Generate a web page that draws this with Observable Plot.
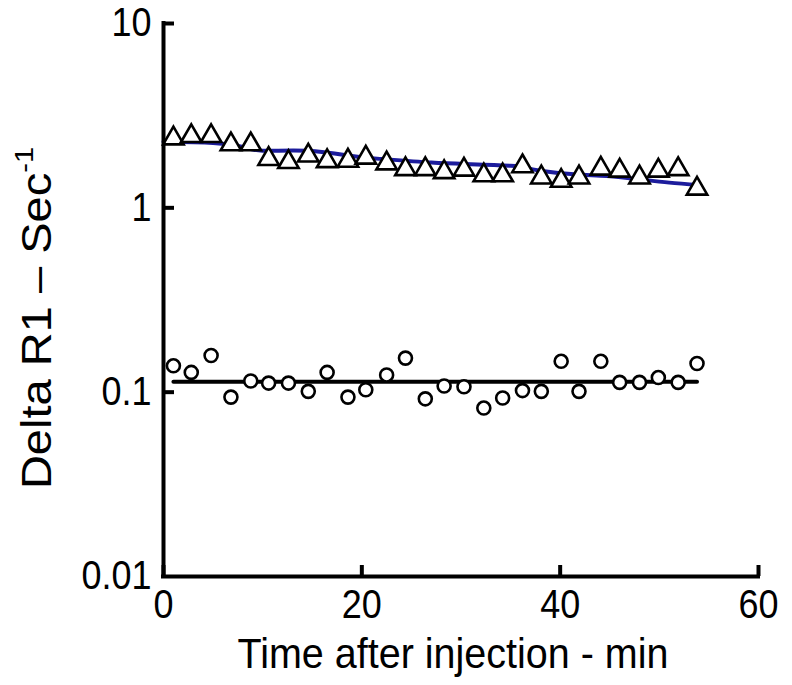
<!DOCTYPE html>
<html>
<head>
<meta charset="utf-8">
<script src="https://cdn.jsdelivr.net/npm/d3@7"></script>
<script src="https://cdn.jsdelivr.net/npm/@observablehq/plot@0.6"></script>
<style>
  html, body { margin: 0; padding: 0; background: #fff; }
  svg { font-family: "Liberation Sans", Arial, sans-serif; }
</style>
</head>
<body>
<div id="chart"></div>
<script>
// Sample times (min)
const time = [1.0, 2.8, 4.8, 6.8, 8.8, 10.6, 12.6, 14.6, 16.5, 18.6, 20.4, 22.5, 24.4, 26.4,
              28.3, 30.3, 32.3, 34.2, 36.2, 38.1, 40.1, 41.9, 44.1, 46.0, 48.0, 49.9, 51.9, 53.8];
// Upper series (triangles)
const triangleValues = [2.38, 2.45, 2.45, 2.21, 2.21, 1.84, 1.77, 1.92, 1.79, 1.80, 1.87, 1.74, 1.62, 1.62,
                        1.56, 1.61, 1.50, 1.50, 1.68, 1.46, 1.40, 1.46, 1.63, 1.59, 1.46, 1.59, 1.62, 1.27];
// Lower series (circles)
const circleValues = [0.139, 0.128, 0.158, 0.094, 0.115, 0.112, 0.112, 0.101, 0.128, 0.094, 0.103, 0.124, 0.153, 0.092,
                      0.108, 0.107, 0.082, 0.093, 0.102, 0.101, 0.147, 0.101, 0.147, 0.113, 0.113, 0.120, 0.113, 0.143];
// Fitted curve for the upper series
const fitTime = [0, 5, 8, 10, 14.5, 19, 22, 27, 31, 35, 36.5, 38, 41.4, 44.7, 48, 51, 54];
const fitValues = [2.28, 2.25, 2.14, 2.04, 2.04, 1.91, 1.84, 1.76, 1.725, 1.69, 1.65, 1.59, 1.52, 1.49, 1.43, 1.37, 1.33];
// Fitted line for the lower series
const flatTime = [1.0, 53.8];
const flatValues = [0.114, 0.114];
// Axis ticks
const xTicks = [0, 20, 40, 60];
const yTicks = [0.01, 0.1, 1, 10];
const yTickLabels = ["0.01", "0.1", "1", "10"];
const xLabel = "Time after injection - min";
const yLabel = "Delta R1 \u2013 Sec";
const yLabelSup = "-1";

const tri = time.map((t, i) => ({t, v: triangleValues[i]}));
const circ = time.map((t, i) => ({t, v: circleValues[i]}));
const fit = fitTime.map((t, i) => ({t, v: fitValues[i]}));
const flat = flatTime.map((t, i) => ({t, v: flatValues[i]}));

const W = 792, H = 685;
const mL = 163, mR = 34, mT = 23, mB = 109;
const innerW = W - mL - mR, innerH = H - mT - mB;
const tickLen = 11;

const chart = Plot.plot({
  width: W, height: H,
  marginLeft: mL, marginRight: mR, marginTop: mT, marginBottom: mB,
  style: {fontFamily: "Liberation Sans, Arial, sans-serif", color: "#000", background: "#fff"},
  x: {domain: [0, 60]},
  y: {type: "log", domain: [0.01, 10]},
  marks: [
    Plot.axisX({ticks: xTicks, tickSize: 0, tickPadding: 13, fontSize: 36, label: null, tickFormat: d => String(d)}),
    Plot.axisY({ticks: yTicks, tickSize: 0, tickPadding: 12, fontSize: 36, label: null,
                tickFormat: d => yTickLabels[yTicks.indexOf(d)]}),
    Plot.line(fit, {x: "t", y: "v", stroke: "#1c1c9c", strokeWidth: 4, curve: "natural"}),
    Plot.line(flat, {x: "t", y: "v", stroke: "#000", strokeWidth: 4}),
    Plot.dot(tri, {x: "t", y: "v", symbol: "triangle", r: 7.6, fill: "#fff", stroke: "#000", strokeWidth: 2.6}),
    Plot.dot(circ, {x: "t", y: "v", symbol: "circle", r: 6.5, fill: "#fff", stroke: "#000", strokeWidth: 2.6}),
    Plot.ruleX([0], {stroke: "#000", strokeWidth: 4, strokeLinecap: "square"}),
    Plot.ruleY([0.01], {stroke: "#000", strokeWidth: 4, strokeLinecap: "square"}),
    Plot.tickX(xTicks, {x: d => d, stroke: "#000", strokeWidth: 4, insetTop: innerH - tickLen}),
    Plot.tickY(yTicks.slice(1), {y: d => d, stroke: "#000", strokeWidth: 4, insetRight: innerW - tickLen})
  ]
});

const svg = d3.select(chart);

// Slightly taller glyphs, as in the reference
svg.selectAll("g[aria-label='x-axis tick label'] text, g[aria-label='y-axis tick label'] text")
  .each(function() {
    const t = this.getAttribute("transform") || "";
    this.setAttribute("transform", t + " scale(1,1.12)");
  });

// X-axis title
svg.append("text")
  .attr("transform", `translate(453, 668) scale(1,1.08)`)
  .attr("text-anchor", "middle")
  .attr("font-size", 39.5)
  .attr("fill", "#000")
  .text(xLabel);

// Y-axis title with superscript
const yt = svg.append("text")
  .attr("transform", `translate(51, 318) rotate(-90) scale(1.12,1)`)
  .attr("text-anchor", "middle")
  .attr("font-size", 42)
  .attr("fill", "#000");
yt.append("tspan").text(yLabel);
yt.append("tspan").attr("font-size", 26).attr("dy", -18).text(yLabelSup);

document.getElementById("chart").appendChild(chart);
</script>
</body>
</html>
